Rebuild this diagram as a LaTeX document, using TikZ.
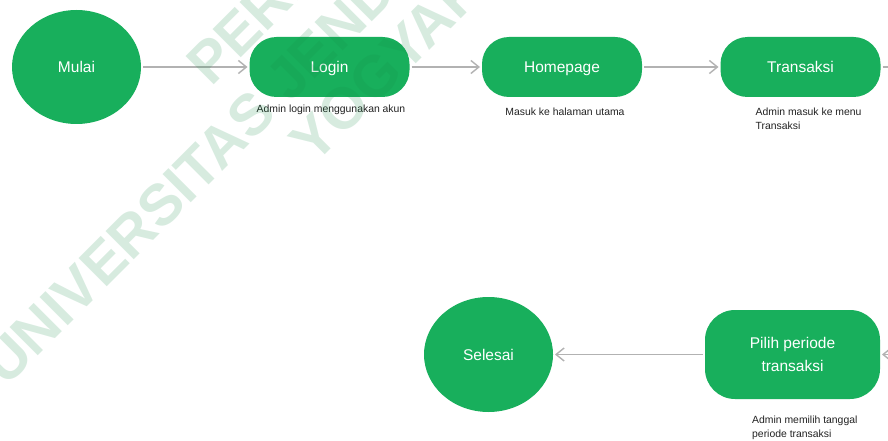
\documentclass[tikz,border=0pt]{standalone}
\usepackage{fontspec}
\setmainfont{Liberation Sans}
\usepackage{xcolor}
\usetikzlibrary{positioning, arrows.meta, shapes.geometric}
\definecolor{flowGreen}{RGB}{24,175,92}
\definecolor{lineGray}{RGB}{178,178,178}
\definecolor{noteText}{RGB}{34,34,34}
\definecolor{markGreen}{RGB}{20,140,70}
\tikzset{
    terminal/.style={ellipse, fill=flowGreen, text=white, minimum width=129pt, minimum height=114pt, inner sep=0pt, outer sep=0pt, font=\fontsize{15.5}{23}\selectfont, text depth=0pt},
    process/.style={rectangle, rounded corners=27pt, fill=flowGreen, text=white, minimum width=160pt, minimum height=60pt, inner sep=0pt, outer sep=0pt, align=center, font=\fontsize{15.5}{23}\selectfont, text depth=0pt},
    arrow/.style={-{Straight Barb[length=8pt, width=13pt]}, draw=lineGray, line width=1.4pt, shorten <=2pt, shorten >=2pt},
    link/.style={draw=lineGray, line width=1.4pt, shorten <=2pt},
    note/.style={font=\fontsize{10.4}{14}\selectfont, text=noteText, inner sep=0pt},
    watermark/.style={rotate=45, anchor=base west, inner sep=0pt, text=markGreen, text opacity=0.17, font=\fontsize{58}{63}\selectfont\bfseries}
}
\begin{document}
\begin{tikzpicture}[x=1pt, y=-1pt]
        \useasboundingbox (0,0) rectangle (888,441);
        \fill[white] (0,0) rectangle (888,441);

        % Top row
        \node[terminal] (mulai) at (76.5,67) {Mulai};
        \node[process, right=108.5pt of mulai] (login) {Login};
        \node[process, right=72.5pt of login] (homepage) {Homepage};
        \node[process, right=78.5pt of homepage] (transaksi) {Transaksi};

        % Bottom row
        \node[process, minimum width=175pt, minimum height=89pt, rounded corners=30pt] (pilih) at (792.5,354.5) {Pilih periode\\transaksi};
        \node[terminal, left=152pt of pilih, minimum height=115pt] (selesai) {Selesai};

        % Notes
        \node[note, below=8pt of login, xshift=1.5pt] (loginNote) {Admin login menggunakan akun};
        \node[note, below=11pt of homepage, xshift=3pt] (homeNote) {Masuk ke halaman utama};
        \node[note, align=left, anchor=north west] (transNote) at (755.5,108) {Admin masuk ke menu\\Transaksi};
        \node[note, align=left, anchor=north west] (pilihNote) at (752,415.5) {Admin memilih tanggal\\periode transaksi};

        % Arrows
        \coordinate (offRight) at (900,67);
        \coordinate (fromRight) at (905,354.5);
        \draw[arrow] (mulai) -- (login);
        \draw[arrow] (login) -- (homepage);
        \draw[arrow] (homepage) -- (transaksi);
        \draw[link] (transaksi) -- (offRight);
        \draw[arrow] (fromRight) -- (pilih);
        \draw[arrow] (pilih) -- (selesai);

        % Watermark
        \begin{scope}
            \clip (0,0) rectangle (888,441);
            \node[watermark] (markTop) at (211,88) {PERPUSTAKAAN};
            \node[watermark] (markMid) at (6,388) {UNIVERSITAS JENDERAL};
            \node[watermark] (markLow) at (314,166) {YOGYAKARTA};
        \end{scope}
    \end{tikzpicture}
\end{document}
